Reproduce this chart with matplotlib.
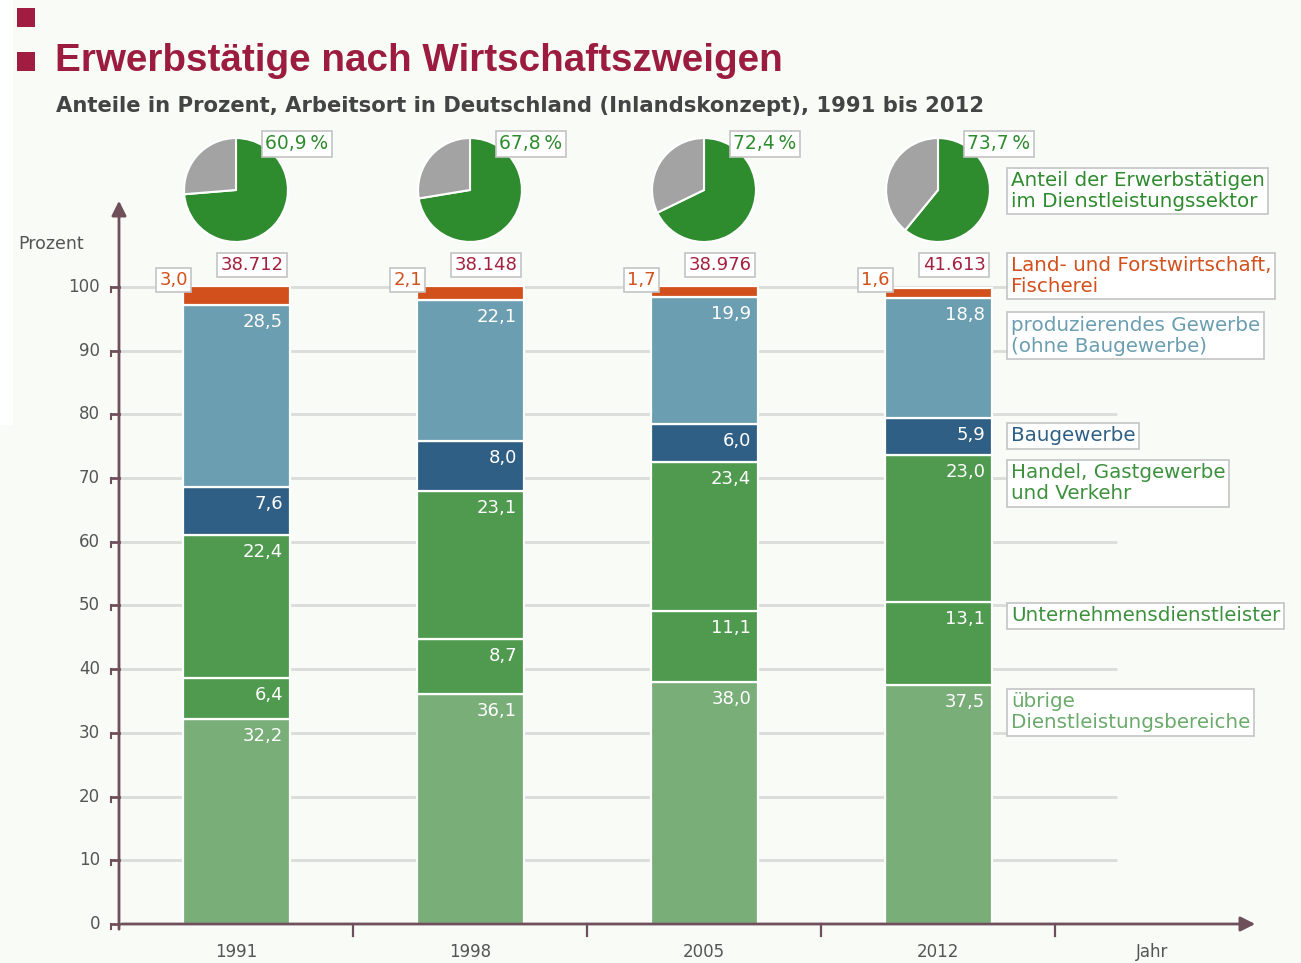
import matplotlib
matplotlib.use('Agg')
import matplotlib.pyplot as plt
from matplotlib.patches import Rectangle

# ---------------- data ----------------
years = ['1991', '1998', '2005', '2012']
uebrige = [32.2, 36.1, 38.0, 37.5]
unternehmen = [6.4, 8.7, 11.1, 13.1]
handel = [22.4, 23.1, 23.4, 23.0]
bau = [7.6, 8.0, 6.0, 5.9]
produz = [28.5, 22.1, 19.9, 18.8]
land = [3.0, 2.1, 1.7, 1.6]
totals = ['38.712', '38.148', '38.976', '41.613']
dienst_share = [60.9, 67.8, 72.4, 73.7]          # printed percentages
pie_green_drawn = [73.7, 72.4, 67.8, 60.9]       # green share as drawn in the pies
yticks = [0, 10, 20, 30, 40, 50, 60, 70, 80, 90, 100]

series = [uebrige, unternehmen, handel, bau, produz]
seg_colors = ['#7aae79', '#4f9a4f', '#4f9a4f', '#2f5f85', '#6b9eb0']
land_color = '#d2501c'

legend_labels = ['übrige\nDienstleistungsbereiche', 'Unternehmensdienstleister',
                 'Handel, Gastgewerbe\nund Verkehr', 'Baugewerbe',
                 'produzierendes Gewerbe\n(ohne Baugewerbe)']
legend_colors = ['#6aaa6a', '#3d913d', '#3d913d', '#2f5f85', '#6b9eb0']
legend_offsets_px = [16, 14, 17, 18, 27]   # first-line centre below segment top

# ---------------- figure ----------------
W, H = 1301, 963
fig = plt.figure(figsize=(W / 100, H / 100), dpi=100)
fig.patch.set_facecolor('#f8fbf6')
plt.rcParams['font.family'] = ['DejaVu Sans']

def fx(x):
    return x / W

def fy(y):
    return 1 - y / H

fig.patches.append(Rectangle((0, fy(425)), fx(13), 425 / H, transform=fig.transFigure,
                             facecolor='white', edgecolor='none', zorder=0))

# red squares + titles
for y0 in (8, 52):
    fig.patches.append(Rectangle((fx(17), fy(y0 + 19)), fx(18), 19 / H, transform=fig.transFigure,
                                 facecolor='#a01c40', edgecolor='none'))
fig.text(fx(55), fy(61), 'Erwerbstätige nach Wirtschaftszweigen', fontsize=27.8,
         fontweight='bold', color='#9c1c3f', family='Liberation Sans', va='center', ha='left')
fig.text(fx(56), fy(106), 'Anteile in Prozent, Arbeitsort in Deutschland (Inlandskonzept), 1991 bis 2012',
         fontsize=15.2, fontweight='bold', color='#444444', va='center', ha='left')

# main axes
px_per_unit = (924 - 287) / 100.0
slot = 234.0
ax = fig.add_axes([fx(119), fy(924), (1255 - 119) / W, (924 - 204) / H])
ax.set_xlim(-0.5, -0.5 + (1255 - 119) / slot)
ax.set_ylim(0, (924 - 204) / px_per_unit)
ax.axis('off')
ax.patch.set_alpha(0)

x = list(range(len(years)))
bw = 107 / slot

# grid lines
grid_end = -0.5 + (1117 - 119) / slot
for v in yticks[1:]:
    ax.plot([-0.5, grid_end], [v, v], color='#dadcda', lw=2, zorder=0.5, solid_capstyle='butt')

# stacked bars
bottoms = [0.0] * len(years)
tops_per_series = []
for vals, col in zip(series, seg_colors):
    ax.bar(x, vals, bw, bottom=bottoms, color=col, edgecolor='white', linewidth=1.6, zorder=2)
    tops = [b + v for b, v in zip(bottoms, vals)]
    for i in x:
        ax.text(i + bw / 2 - 0.027, tops[i] - 17 / px_per_unit, f'{vals[i]:.1f}'.replace('.', ','),
                color='white', fontsize=13, ha='right', va='center', zorder=3)
    tops_per_series.append(tops)
    bottoms = tops
ax.bar(x, land, bw, bottom=bottoms, color=land_color, edgecolor='white', linewidth=1.6, zorder=2)

box = dict(boxstyle='square,pad=0.18', facecolor='white', edgecolor='#c4c4c4', linewidth=1.2)

for i in x:
    # Land value box left of bar
    ax.text(i - bw / 2 - 9 / slot, 100 + 7 / px_per_unit, f'{land[i]:.1f}'.replace('.', ','),
            color=land_color, fontsize=13, ha='center', va='center', bbox=box, zorder=4)
    # totals box
    ax.text(i + bw / 2 - 6 / slot, (924 - 265) / px_per_unit, totals[i],
            color='#a3213e', fontsize=13, ha='right', va='center', bbox=box, zorder=4)

# axis lines, arrows, ticks
axis_col = '#6e4f5a'
ax.annotate('', xy=(-0.5, (924 - 198) / px_per_unit), xytext=(-0.5, -8 / px_per_unit),
            arrowprops=dict(arrowstyle='-|>', color=axis_col, lw=2, mutation_scale=22),
            annotation_clip=False, zorder=5)
ax.annotate('', xy=(-0.5 + (1258 - 119) / slot, 0), xytext=(-0.5, 0),
            arrowprops=dict(arrowstyle='-|>', color=axis_col, lw=2, mutation_scale=22),
            annotation_clip=False, zorder=5)
for v in yticks:
    ax.plot([-0.5 - 8 / slot, -0.5], [v, v], color=axis_col, lw=2, clip_on=False, zorder=5)
    ax.plot([-0.5 - 8 / slot, -0.5 - 8 / slot], [v, v - 5 / px_per_unit], color=axis_col, lw=1.5,
            clip_on=False, zorder=5)
    ax.text(-0.5 - 19 / slot, v, str(v), color='#555555', fontsize=12, ha='right', va='center')
for b in range(1, len(years) + 1):
    ax.plot([b - 0.5, b - 0.5], [0, -12 / px_per_unit], color=axis_col, lw=1.6, clip_on=False, zorder=5)
for i in x:
    ax.text(i, -28 / px_per_unit, years[i], color='#555555', fontsize=12, ha='center', va='center')
ax.text(len(years) - 20 / slot, -28 / px_per_unit, 'Jahr', color='#555555', fontsize=12,
        ha='center', va='center')
fig.text(fx(18), fy(244), 'Prozent', color='#555555', fontsize=12.5, ha='left', va='center')

# right-side labels
lx = -0.5 + (1011 - 119) / slot
line_px = 22
lab_fs = 14.3
ls = 1.12
for lab, col, off, tops in zip(legend_labels, legend_colors, legend_offsets_px, tops_per_series):
    nlines = lab.count('\n') + 1
    yc = tops[-1] - (off + (nlines - 1) * line_px / 2) / px_per_unit
    ax.text(lx, yc, lab, color=col, fontsize=lab_fs, ha='left', va='center', bbox=box,
            linespacing=ls, zorder=4)
ax.text(lx, (924 - 276) / px_per_unit, 'Land- und Forstwirtschaft,\nFischerei', color=land_color,
        fontsize=lab_fs, ha='left', va='center', bbox=box, linespacing=ls, zorder=4)
ax.text(lx, (924 - 191) / px_per_unit, 'Anteil der Erwerbstätigen\nim Dienstleistungssektor',
        color='#2e8b2e', fontsize=lab_fs, ha='left', va='center', bbox=box, linespacing=ls,
        zorder=4, clip_on=False)

# pies
fig.canvas.draw()
for i in x:
    cx = ax.transData.transform((i, 0))[0]
    r = 53
    pax = fig.add_axes([fx(cx - r), fy(190 + r), 2 * r / W, 2 * r / H])
    g = pie_green_drawn[i]
    pax.pie([g, 100 - g], colors=['#2e8b2e', '#a3a3a3'], startangle=90, counterclock=False,
            wedgeprops=dict(edgecolor='white', linewidth=1.5))
    pax.set_xlim(-1.02, 1.02)
    pax.set_ylim(-1.02, 1.02)
    pax.set_aspect('equal')
    pax.text(1.075, 0.934, f'{dienst_share[i]:.1f}'.replace('.', ',') + '\u2009%', transform=pax.transAxes,
             color='#2e8b2e', fontsize=13.5, ha='center', va='center', bbox=box, clip_on=False)

fig.savefig('out.png', dpi=100, facecolor=fig.get_facecolor())
